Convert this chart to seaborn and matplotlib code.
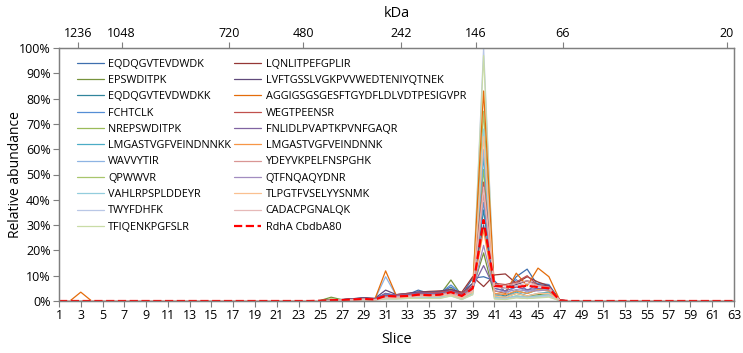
import numpy as np
import pandas as pd
import matplotlib
matplotlib.use("Agg")
import matplotlib.pyplot as plt
import seaborn as sns
from matplotlib.ticker import FuncFormatter

# Slices 1..63; peptides are only detected between slice 24 and 48
slices = list(range(1, 64))
FIRST, LAST = 24, 48  # window of values, zeros elsewhere

peptides = [
    "EQDQGVTEVDWDK", "EPSWDITPK", "EQDQGVTEVDWDKK", "FCHTCLK", "NREPSWDITPK",
    "LMGASTVGFVEINDNNKK", "WAVVYTIR", "QPWWVR", "VAHLRPSPLDDEYR", "TWYFDHFK",
    "TFIQENKPGFSLR",
    "LQNLITPEFGPLIR", "LVFTGSSLVGKPVVWEDTENIYQTNEK", "AGGIGSGSGESFTGYDFLDLVDTPESIGVPR",
    "WEGTPEENSR", "FNLIDLPVAPTKPVNFGAQR", "LMGASTVGFVEINDNNK", "YDEYVKPELFNSPGHK",
    "QTFNQAQYDNR", "TLPGTFVSELYYSNMK", "CADACPGNALQK", "RdhA CbdbA80",
]

colors = [
    "#3E6FAE", "#77933C", "#31859C", "#558ED5", "#9BBB59",
    "#4BACC6", "#8EB4E3", "#A8C66C", "#93CDDD", "#B9C7E6",
    "#C9DCA6",
    "#953735", "#604A7B", "#E46C0A", "#C0504D", "#8064A2",
    "#F79646", "#D99694", "#A28DC0", "#FAC090", "#E6B9B8", "#FF0000",
]

# relative abundance (%) for slices 24..48
window_values = [
    [0, 0.2, 0.4, 0.6, 0.9, 1.2, 0.8, 3.0, 2.0, 2.5, 4.3, 3.0, 3.5, 5.5, 2.5, 9.0, 9.6, 8.0, 3.5, 9.6, 12.6, 6.0, 5.5, 0.3, 0],
    [0, 0.2, 1.5, 0.5, 0.8, 1.0, 0.6, 2.5, 1.5, 2.0, 2.5, 2.0, 2.5, 8.3, 2.0, 5.0, 19, 2.0, 1.5, 3.0, 2.0, 2.5, 3.0, 0.2, 0],
    [0, 0.1, 0.3, 0.4, 0.7, 0.9, 0.7, 1.5, 1.8, 2.0, 2.5, 2.2, 2.5, 3.5, 1.5, 4.0, 36, 3.0, 2.0, 4.0, 3.0, 4.5, 4.0, 0.2, 0],
    [0, 0.1, 0.3, 0.5, 0.8, 1.0, 0.8, 2.5, 2.5, 2.8, 3.5, 3.0, 3.2, 6.3, 2.8, 7.0, 39, 5.0, 4.0, 8.5, 4.0, 7.0, 6.5, 0.3, 0],
    [0, 0.1, 0.8, 0.4, 0.6, 0.8, 0.5, 1.5, 1.5, 1.8, 2.0, 1.8, 2.0, 5.0, 1.5, 4.0, 52, 1.5, 1.0, 2.0, 1.5, 2.0, 2.5, 0.2, 0],
    [0, 0.1, 0.3, 0.4, 0.6, 0.8, 0.6, 1.5, 1.2, 1.5, 2.0, 1.8, 2.0, 3.0, 1.0, 3.5, 57, 2.5, 1.5, 3.5, 2.0, 3.0, 3.5, 0.2, 0],
    [0, 0.1, 0.3, 0.4, 0.6, 0.8, 0.6, 9.6, 2.0, 1.8, 2.5, 2.0, 2.5, 4.0, 1.5, 5.0, 60, 3.0, 2.5, 6.0, 3.5, 5.0, 4.5, 0.2, 0],
    [0, 0.1, 0.6, 0.3, 0.5, 0.7, 0.5, 1.0, 1.0, 1.2, 1.5, 1.5, 1.5, 3.0, 1.0, 3.0, 75, 1.0, 0.8, 1.5, 1.0, 1.5, 2.0, 0.1, 0],
    [0, 0.1, 0.2, 0.3, 0.5, 0.6, 0.5, 1.0, 1.0, 1.2, 1.5, 1.2, 1.5, 2.5, 0.8, 3.0, 68, 1.5, 1.0, 2.0, 1.5, 2.0, 2.5, 0.1, 0],
    [0, 0.1, 0.2, 0.3, 0.4, 0.5, 0.4, 0.8, 0.8, 1.0, 1.2, 1.0, 1.2, 2.0, 0.6, 2.5, 100, 1.0, 0.8, 1.5, 1.2, 1.5, 2.0, 0.1, 0],
    [0, 0.1, 0.3, 0.3, 0.4, 0.5, 0.4, 0.8, 0.8, 1.0, 1.0, 1.0, 1.0, 2.0, 0.6, 2.5, 97, 0.8, 0.6, 1.2, 1.0, 1.2, 1.5, 0.1, 0],
    [0, 0.1, 0.3, 0.5, 0.8, 1.2, 1.0, 2.0, 2.5, 3.0, 3.5, 3.8, 4.0, 4.5, 3.5, 9.6, 5.7, 10.3, 10.7, 7.0, 9.6, 7.5, 6.0, 0.3, 0],
    [0, 0.1, 0.3, 0.5, 0.9, 1.3, 1.0, 4.3, 2.5, 3.0, 3.5, 3.5, 3.8, 4.5, 3.0, 7.0, 30, 6.0, 5.0, 6.5, 8.0, 6.5, 6.0, 0.3, 0],
    [0, 0.1, 0.3, 0.4, 0.6, 0.8, 0.6, 11.9, 2.0, 2.0, 2.5, 2.5, 2.5, 4.0, 2.0, 5.0, 83, 4.0, 3.0, 11.0, 6.0, 13.0, 9.6, 0.3, 0],
    [0, 0.1, 0.3, 0.4, 0.7, 1.0, 0.8, 2.0, 2.5, 2.8, 3.0, 3.2, 3.5, 4.0, 3.0, 6.0, 47, 7.0, 6.5, 7.5, 10.0, 6.0, 5.5, 0.3, 0],
    [0, 0.1, 0.3, 0.5, 0.8, 1.0, 0.8, 3.0, 2.2, 2.5, 3.2, 3.0, 3.0, 4.0, 2.5, 5.5, 14, 5.0, 4.0, 5.5, 4.5, 5.0, 5.0, 0.3, 0],
    [0, 0.1, 0.2, 0.3, 0.5, 0.7, 0.5, 1.5, 1.5, 1.8, 2.0, 2.0, 2.2, 3.0, 1.5, 4.0, 28, 3.0, 2.5, 4.0, 3.0, 4.5, 4.0, 0.2, 0],
    [0, 0.1, 0.2, 0.3, 0.5, 0.7, 0.5, 1.5, 1.8, 2.0, 2.5, 2.5, 2.5, 3.5, 2.0, 4.5, 42, 6.5, 6.0, 7.0, 8.0, 6.0, 5.5, 0.2, 0],
    [0, 0.1, 0.2, 0.3, 0.5, 0.7, 0.5, 1.8, 1.5, 1.8, 2.2, 2.0, 2.2, 3.0, 1.8, 4.0, 22, 4.0, 3.5, 4.5, 4.0, 4.0, 4.5, 0.2, 0],
    [0, 0.1, 0.2, 0.3, 0.4, 0.6, 0.4, 1.2, 1.2, 1.5, 1.8, 1.8, 2.0, 2.5, 1.2, 3.5, 65, 2.0, 1.5, 3.0, 2.0, 3.0, 3.0, 0.2, 0],
    [0, 0.1, 0.2, 0.3, 0.4, 0.6, 0.4, 1.2, 1.5, 1.8, 2.0, 2.0, 2.2, 3.0, 1.5, 4.0, 45, 5.5, 5.0, 6.0, 7.0, 6.0, 5.0, 0.2, 0],
    [0, 0.1, 0.3, 0.4, 0.6, 0.8, 0.6, 2.0, 1.8, 2.0, 2.5, 2.3, 2.5, 3.5, 2.0, 5.0, 32, 6.0, 5.7, 5.5, 6.0, 5.5, 5.0, 0.2, 0],
]

# the one early signal: AGGIG... peptide at slice 3
early_peptide = "AGGIGSGSGESFTGYDFLDLVDTPESIGVPR"
early_slice, early_value = 3, 3.5

# top axis: molecular weight markers (kDa) and their slice positions
kda_labels = ["1236", "1048", "720", "480", "242", "146", "66", "20"]
kda_slices = [2.72, 6.76, 16.62, 23.45, 32.43, 39.32, 47.26, 62.36]

sns.set_theme(style="white")
plt.rcParams["font.family"] = ["Open Sans", "DejaVu Sans"]
plt.rcParams["text.color"] = "black"
plt.rcParams["axes.labelcolor"] = "black"
plt.rcParams["xtick.labelcolor"] = "black"
plt.rcParams["ytick.labelcolor"] = "black"

df = pd.DataFrame(0.0, index=slices, columns=peptides)
for name, vals in zip(peptides, window_values):
    df.loc[FIRST:LAST, name] = vals
df.loc[early_slice, early_peptide] = early_value

fig = plt.figure(figsize=(7.43, 3.53), dpi=100)
ax = fig.add_axes([59 / 743, 1 - 301 / 353, 675 / 743, 253 / 353])

for name, col in zip(peptides, colors):
    dashed = name == "RdhA CbdbA80"
    sns.lineplot(x=df.index, y=df[name], ax=ax, color=col, label=name,
                 linewidth=1.6 if dashed else 0.9,
                 linestyle="--" if dashed else "-")

axis_grey = "#7f7f7f"
ax.set_xlim(1, 63)
ax.set_ylim(0, 100)
ax.set_xticks(slices[::2])
ax.set_yticks(range(0, 101, 10))
ax.yaxis.set_major_formatter(FuncFormatter(lambda v, p: f"{int(v)}%"))
ax.tick_params(axis="both", labelsize=9, length=4, width=0.8, color=axis_grey,
               labelcolor="black", direction="out", pad=2, bottom=True, left=True)
for sp in ax.spines.values():
    sp.set_color(axis_grey)
    sp.set_linewidth(0.9)
ax.set_xlabel("Slice", fontsize=10.5, labelpad=7)
ax.set_ylabel("Relative abundance", fontsize=10)
ax.yaxis.set_label_coords(-0.054, 0.5)

top = ax.twiny()
top.set_xlim(ax.get_xlim())
top.set_xticks(kda_slices)
top.set_xticklabels(kda_labels)
top.tick_params(axis="x", labelsize=9, length=4, width=0.8, color=axis_grey,
                labelcolor="black", direction="out", pad=2, top=True)
for sp in top.spines.values():
    sp.set_color(axis_grey)
    sp.set_linewidth(0.9)
top.set_xlabel("kDa", fontsize=10.5, labelpad=7)

leg = ax.legend(loc="upper left", bbox_to_anchor=(0.026, 0.958), ncol=2,
                frameon=False, fontsize=7.8, handlelength=2.5, handletextpad=0.4,
                columnspacing=0.3, labelspacing=0.49, borderpad=0, borderaxespad=0,
                labelcolor="black")

fig.savefig("out.png", dpi=100)
